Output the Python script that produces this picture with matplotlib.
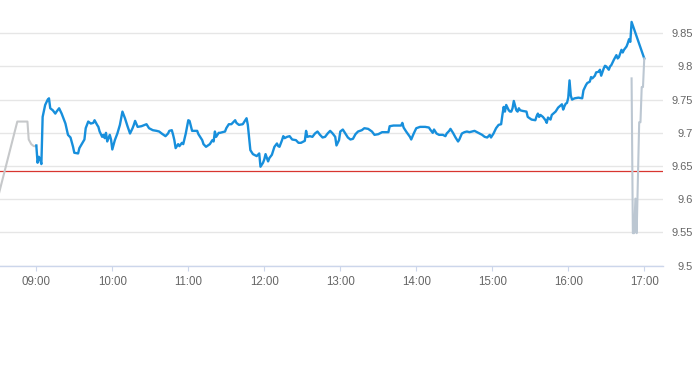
import pandas as pd
import matplotlib
matplotlib.use("Agg")
import matplotlib.pyplot as plt
import matplotlib.dates as mdates

# ---------------------------------------------------------------------------
# data (intraday price, one trading day)
# ---------------------------------------------------------------------------
day = "2024-01-02 "

pre_times = ["08:30", "08:45", "08:53", "08:54", "08:56", "08:58", "09:00"]
pre_prices = [9.605, 9.717, 9.717, 9.690, 9.683, 9.680, 9.680]

main_times = [
    "09:00", "09:01", "09:02", "09:03", "09:04", "09:05", "09:07", "09:09", "09:10", "09:11",
    "09:13", "09:15", "09:16", "09:18", "09:20", "09:23", "09:25", "09:27", "09:29", "09:30",
    "09:33", "09:34", "09:37", "09:38", "09:39", "09:41", "09:43", "09:45", "09:46", "09:48",
    "09:49", "09:50", "09:52", "09:53", "09:54", "09:55", "09:56", "09:58", "09:59", "10:00",
    "10:02", "10:04", "10:06", "10:08", "10:10", "10:12", "10:14", "10:16", "10:17", "10:18",
    "10:20", "10:23", "10:27", "10:29", "10:32", "10:35", "10:37", "10:39", "10:42", "10:44",
    "10:45", "10:47", "10:48", "10:49", "10:50", "10:52", "10:53", "10:55", "10:56", "10:58",
    "11:00", "11:01", "11:03", "11:07", "11:08", "11:11", "11:12", "11:14", "11:17", "11:19",
    "11:20", "11:21", "11:22", "11:24", "11:25", "11:29", "11:30", "11:32", "11:34", "11:36",
    "11:37", "11:38", "11:40", "11:43", "11:46", "11:47", "11:49", "11:51", "11:54", "11:56",
    "11:57", "11:59", "12:00", "12:01", "12:03", "12:04", "12:06", "12:08", "12:10", "12:11",
    "12:12", "12:14", "12:15", "12:16", "12:18", "12:20", "12:22", "12:25", "12:27", "12:29",
    "12:32", "12:33", "12:34", "12:36", "12:38", "12:40", "12:42", "12:44", "12:46", "12:48",
    "12:50", "12:52", "12:54", "12:56", "12:57", "12:59", "13:00", "13:02", "13:04", "13:06",
    "13:08", "13:10", "13:12", "13:14", "13:17", "13:19", "13:22", "13:25", "13:27", "13:30",
    "13:33", "13:37", "13:38", "13:39", "13:42", "13:46", "13:48", "13:49", "13:50", "13:52",
    "13:55", "13:56", "13:58", "14:00", "14:03", "14:07", "14:10", "14:11", "14:13", "14:14",
    "14:16", "14:18", "14:21", "14:23", "14:24", "14:26", "14:27", "14:29", "14:31", "14:33",
    "14:34", "14:36", "14:38", "14:40", "14:42", "14:44", "14:46", "14:49", "14:52", "14:54",
    "14:56", "14:57", "14:58", "14:59", "15:01", "15:03", "15:05", "15:07", "15:08", "15:09",
    "15:10", "15:11", "15:13", "15:14", "15:15", "15:16", "15:17", "15:19", "15:20", "15:21",
    "15:22", "15:24", "15:27", "15:28", "15:31", "15:34", "15:35", "15:36", "15:37", "15:38",
    "15:40", "15:42", "15:43", "15:44", "15:46", "15:47", "15:50", "15:52", "15:55", "15:56",
    "15:57", "15:58", "15:59", "16:00", "16:01", "16:02", "16:03", "16:05", "16:08", "16:11",
    "16:12", "16:14", "16:15", "16:17", "16:18", "16:19", "16:21", "16:22", "16:24", "16:25",
    "16:26", "16:28", "16:29", "16:30", "16:32", "16:33", "16:34", "16:36", "16:38", "16:39",
    "16:40", "16:42", "16:43", "16:44", "16:46", "16:47", "16:48", "16:49", "16:50", "17:00",
]
main_prices = [
    9.681, 9.655, 9.664, 9.660, 9.653, 9.724, 9.742, 9.750, 9.752, 9.737,
    9.734, 9.729, 9.732, 9.737, 9.729, 9.714, 9.697, 9.693, 9.679, 9.670,
    9.669, 9.677, 9.687, 9.690, 9.707, 9.717, 9.714, 9.715, 9.719, 9.712,
    9.709, 9.702, 9.694, 9.697, 9.692, 9.700, 9.687, 9.697, 9.690, 9.675,
    9.689, 9.699, 9.712, 9.732, 9.722, 9.710, 9.699, 9.707, 9.712, 9.718,
    9.709, 9.710, 9.713, 9.707, 9.704, 9.703, 9.702, 9.699, 9.695, 9.699,
    9.703, 9.704, 9.697, 9.689, 9.677, 9.683, 9.680, 9.685, 9.683, 9.699,
    9.719, 9.718, 9.703, 9.703, 9.698, 9.689, 9.683, 9.679, 9.683, 9.689,
    9.687, 9.702, 9.694, 9.700, 9.700, 9.702, 9.707, 9.713, 9.713, 9.717,
    9.719, 9.715, 9.712, 9.713, 9.722, 9.712, 9.674, 9.668, 9.665, 9.669,
    9.649, 9.655, 9.660, 9.668, 9.657, 9.662, 9.667, 9.679, 9.684, 9.680,
    9.679, 9.689, 9.695, 9.692, 9.694, 9.695, 9.690, 9.689, 9.685, 9.685,
    9.688, 9.703, 9.694, 9.695, 9.694, 9.699, 9.702, 9.697, 9.693, 9.694,
    9.699, 9.703, 9.699, 9.694, 9.681, 9.689, 9.702, 9.705, 9.699, 9.693,
    9.690, 9.691, 9.698, 9.702, 9.704, 9.707, 9.706, 9.702, 9.697, 9.698,
    9.701, 9.701, 9.701, 9.710, 9.711, 9.711, 9.711, 9.715, 9.708, 9.702,
    9.694, 9.690, 9.699, 9.707, 9.709, 9.709, 9.708, 9.705, 9.700, 9.705,
    9.699, 9.697, 9.697, 9.695, 9.699, 9.703, 9.706, 9.700, 9.693, 9.687,
    9.690, 9.699, 9.701, 9.702, 9.701, 9.702, 9.703, 9.700, 9.697, 9.694,
    9.693, 9.695, 9.697, 9.693, 9.699, 9.707, 9.712, 9.713, 9.727, 9.739,
    9.732, 9.742, 9.734, 9.732, 9.732, 9.737, 9.748, 9.734, 9.732, 9.737,
    9.734, 9.733, 9.732, 9.724, 9.720, 9.719, 9.725, 9.729, 9.724, 9.727,
    9.724, 9.719, 9.715, 9.723, 9.720, 9.727, 9.732, 9.738, 9.743, 9.735,
    9.740, 9.744, 9.745, 9.753, 9.779, 9.756, 9.750, 9.752, 9.753, 9.752,
    9.764, 9.772, 9.775, 9.777, 9.784, 9.782, 9.786, 9.791, 9.792, 9.795,
    9.786, 9.797, 9.801, 9.800, 9.795, 9.800, 9.802, 9.810, 9.817, 9.812,
    9.814, 9.825, 9.821, 9.825, 9.830, 9.835, 9.841, 9.837, 9.867, 9.812,
]

post_times = ["16:50", "16:51", "16:52", "16:53", "16:54", "16:56", "16:57", "16:58", "16:59", "17:00"]
post_prices = [9.782, 9.549, 9.549, 9.601, 9.549, 9.716, 9.716, 9.769, 9.769, 9.812]

prev_close = 9.642
y_ticks = [9.5, 9.55, 9.6, 9.65, 9.7, 9.75, 9.8, 9.85]

# ---------------------------------------------------------------------------
# figure
# ---------------------------------------------------------------------------
plt.rcParams["font.family"] = ["Liberation Sans", "DejaVu Sans"]
plt.rcParams["font.size"] = 8.3

to_dt = lambda ts: pd.to_datetime([day + t for t in ts])

W, H = 693, 365
fig = plt.figure(figsize=(W / 100, H / 100), dpi=100)
ax = fig.add_axes([0, 1 - 265.7 / H, 663 / W, 265.7 / H])

ax.plot(to_dt(pre_times), pre_prices, color="#c6c8ca", lw=1.5, zorder=3)
ax.plot(to_dt(main_times), main_prices, color="#178fdc", lw=1.7, zorder=4)
ax.plot(to_dt(post_times), post_prices, color="#bcc7d2", lw=1.5, zorder=5)
ax.axhline(prev_close, color="#d8352f", lw=0.9, zorder=2)

# y axis: labels on the right, right-aligned close to the image edge
ax.set_ylim(9.5, 9.9)
ax.set_yticks(y_ticks)
ax.set_yticklabels([f"{v:g}" for v in y_ticks])
ax.yaxis.tick_right()
ax.tick_params(axis="y", length=0, pad=29.5 * 0.72, labelcolor="#666666", labelsize=8)
for lab in ax.get_yticklabels():
    lab.set_horizontalalignment("right")
ax.grid(axis="y", color="#e6e6e6", lw=1)
ax.set_axisbelow(True)

# x axis
ax.set_xlim(pd.Timestamp(day + "08:31:20"), pd.Timestamp(day + "17:14:48"))
ax.xaxis.set_major_locator(mdates.HourLocator())
ax.xaxis.set_major_formatter(mdates.DateFormatter("%H:%M"))
ax.tick_params(axis="x", length=3.3, width=0.8, color="#ccd6eb",
               pad=4, labelcolor="#666666")

for s in ["top", "left", "right"]:
    ax.spines[s].set_visible(False)
ax.spines["bottom"].set_color("#ccd6eb")
ax.spines["bottom"].set_linewidth(1)

fig.savefig("out.png", dpi=100)
